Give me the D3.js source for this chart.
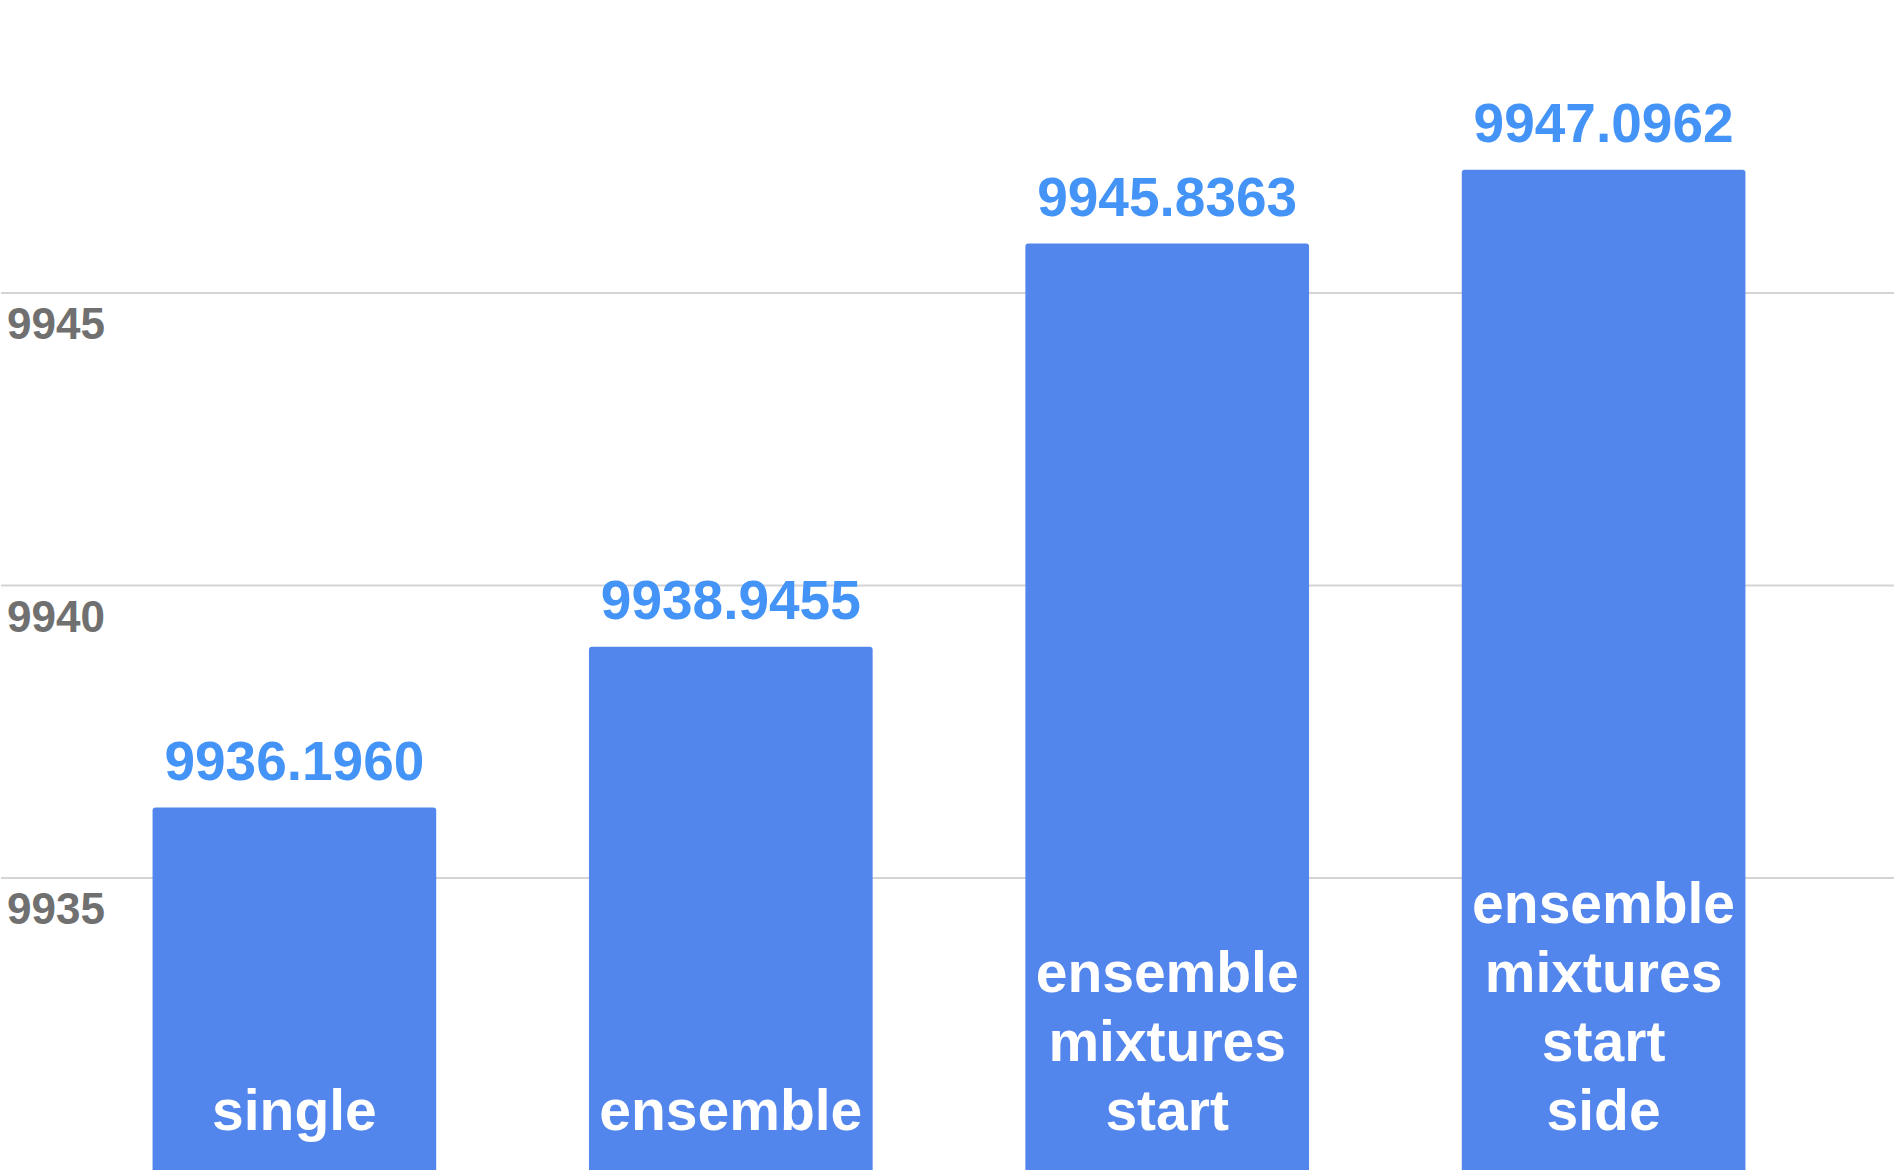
<!DOCTYPE html>
<html>
<head>
<meta charset="utf-8">
<script src="https://cdn.jsdelivr.net/npm/d3@7"></script>
<style>
  html, body { margin: 0; padding: 0; background: #fff; }
  svg { display: block; font-family: "Helvetica Neue", Helvetica, Arial, "Liberation Sans", sans-serif; }
</style>
</head>
<body>
<div id="chart"></div>
<script>
const categories = [
  ["single"],
  ["ensemble"],
  ["ensemble", "mixtures", "start"],
  ["ensemble", "mixtures", "start", "side"],
]
const values = [9936.1960, 9938.9455, 9945.8363, 9947.0962]
const valueLabels = ["9936.1960", "9938.9455", "9945.8363", "9947.0962"]
const tickValues = [9935, 9940, 9945]
const yDomain = [9930, 9950]

const width = 1894
const height = 1170
const barColor = "#5286ec"
const valueColor = "#4493f7"
const tickColor = "#707070"
const gridColor = "#d4d4d4"

const svg = d3
  .select("#chart")
  .append("svg")
  .attr("width", width)
  .attr("height", height)

const x = d3
  .scaleBand()
  .domain(d3.range(values.length))
  .range([2, width + 2])
  .paddingInner(0.35)
  .paddingOuter(0.345)

const y = d3.scaleLinear().domain(yDomain).range([height, 0])

// gridlines + tick labels
const axis = svg
  .append("g")
  .attr("class", "y-axis")
  .call(
    d3.axisRight(y)
      .tickValues(tickValues)
      .tickSize(width)
      .tickFormat(d3.format("d"))
  )
axis.select(".domain").remove()
axis.selectAll(".tick line")
  .attr("x1", 1)
  .attr("stroke", gridColor)
  .attr("stroke-width", 2)
axis.selectAll(".tick text")
  .attr("x", 7)
  .attr("dy", 0)
  .attr("y", 46)
  .attr("text-anchor", "start")
  .attr("fill", tickColor)
  .style("font-size", "44px")
  .style("font-weight", "bold")
  .style("font-family", "\"Helvetica Neue\", Helvetica, Arial, \"Liberation Sans\", sans-serif")

// bars with slightly rounded top corners
const r = 3
const bars = svg.append("g").attr("class", "bars")
bars
  .selectAll("path")
  .data(values)
  .join("path")
  .attr("fill", barColor)
  .attr("d", (d, i) => {
    const x0 = x(i)
    const x1 = x(i) + x.bandwidth()
    const top = y(d)
    const bottom = height
    return `M${x0},${bottom}V${top + r}Q${x0},${top} ${x0 + r},${top}` +
      `H${x1 - r}Q${x1},${top} ${x1},${top + r}V${bottom}Z`
  })

// value labels above bars
svg
  .append("g")
  .selectAll("text")
  .data(values)
  .join("text")
  .attr("x", (d, i) => x(i) + x.bandwidth() / 2)
  .attr("y", d => y(d) - 28)
  .attr("text-anchor", "middle")
  .attr("fill", valueColor)
  .style("font-size", "55px")
  .style("font-weight", "bold")
  .text((d, i) => valueLabels[i])

// category labels inside bars, bottom aligned
const lineHeight = 69
const lastBaseline = 1130
const catLabels = svg
  .append("g")
  .selectAll("text")
  .data(categories)
  .join("text")
  .attr("text-anchor", "middle")
  .attr("fill", "#ffffff")
  .style("font-size", "57px")
  .style("font-weight", "bold")
catLabels
  .selectAll("tspan")
  .data((lines, i) => lines.map((t, j) => ({t, j, n: lines.length, i})))
  .join("tspan")
  .attr("x", d => x(d.i) + x.bandwidth() / 2)
  .attr("y", d => lastBaseline - (d.n - 1 - d.j) * lineHeight)
  .text(d => d.t)
</script>
</body>
</html>
